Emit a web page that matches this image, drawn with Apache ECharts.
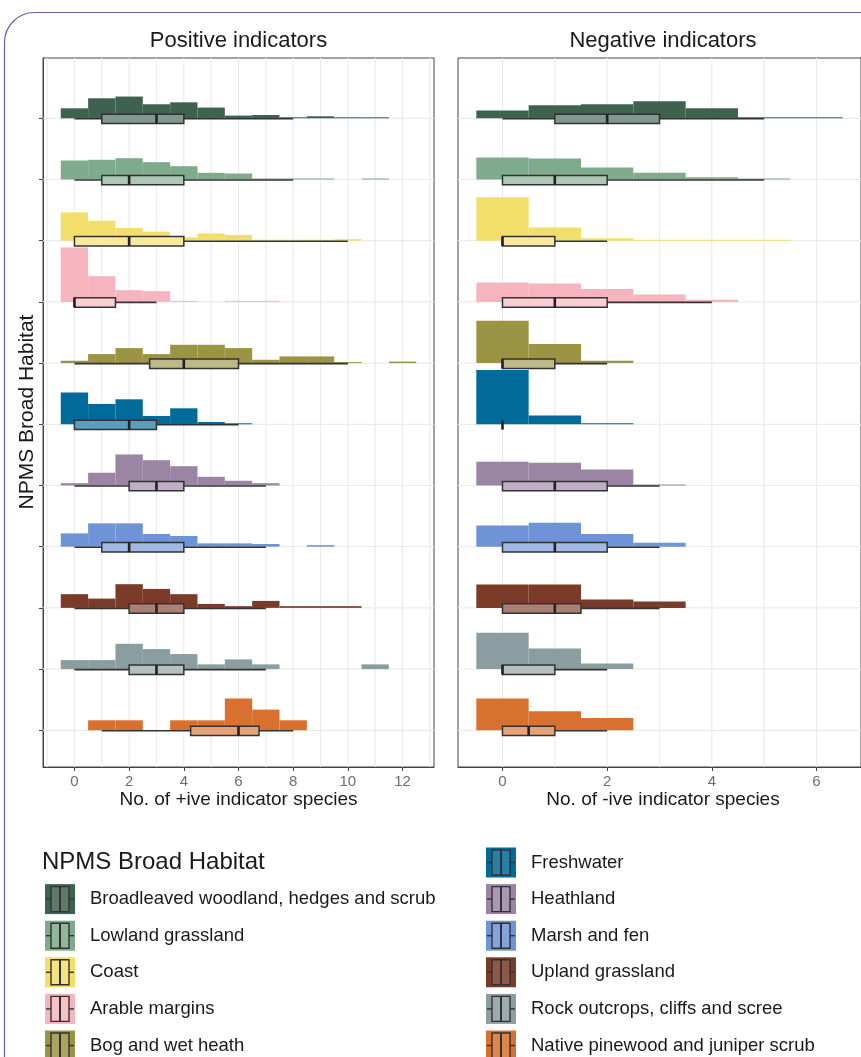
<!DOCTYPE html>
<html><head><meta charset="utf-8">
<script src="https://cdn.jsdelivr.net/npm/echarts@6/dist/echarts.min.js"></script>
<style>html,body{margin:0;padding:0;background:#fff}#c{width:861px;height:1057px}</style>
</head><body><div id="c"></div>
<script>
// ---------- DATA ----------
const habitats = [
  "Broadleaved woodland, hedges and scrub", "Lowland grassland", "Coast", "Arable margins",
  "Bog and wet heath", "Freshwater", "Heathland", "Marsh and fen", "Upland grassland",
  "Rock outcrops, cliffs and scree", "Native pinewood and juniper scrub"
];
const colors = ["#3F6150", "#7FAA8C", "#F2DE6B", "#F5B4BE", "#9A9444", "#006A99",
  "#9A85A5", "#6E93D6", "#7A3C29", "#8A9DA0", "#D8712F"];

// histogram heights (relative density) for integer bins 0,1,2,...
const posHist = [
  [0.163, 0.327, 0.355, 0.229, 0.261, 0.175, 0.044, 0.054, 0.012, 0.033, 0.008, 0.008],
  [0.310, 0.322, 0.348, 0.283, 0.217, 0.109, 0.098, 0.012, 0.008, 0.008, 0, 0.012],
  [0.462, 0.327, 0.208, 0.147, 0.054, 0.119, 0.093, 0.008, 0.008, 0.008, 0.025],
  [0.887, 0.420, 0.191, 0.175, 0.012, 0, 0.012, 0.012],
  [0.038, 0.147, 0.245, 0.147, 0.299, 0.299, 0.245, 0.054, 0.109, 0.109, 0.016, 0, 0.025],
  [0.518, 0.332, 0.408, 0.136, 0.261, 0.038, 0.016],
  [0.038, 0.208, 0.507, 0.413, 0.315, 0.142, 0.077, 0.038],
  [0.217, 0.381, 0.381, 0.208, 0.175, 0.054, 0.054, 0.044, 0, 0.025],
  [0.224, 0.152, 0.387, 0.310, 0.224, 0.065, 0.028, 0.114, 0.028, 0.028, 0.028],
  [0.147, 0.147, 0.413, 0.327, 0.245, 0.077, 0.158, 0.077, 0, 0, 0, 0.077],
  [0, 0.163, 0.163, 0, 0.163, 0.163, 0.518, 0.338, 0.163]
];
const negHist = [
  [0.126, 0.212, 0.229, 0.278, 0.163, 0.012, 0.006],
  [0.359, 0.343, 0.196, 0.109, 0.038, 0.008],
  [0.708, 0.217, 0.038, 0.008, 0.008, 0.008],
  [0.315, 0.299, 0.212, 0.119, 0.033],
  [0.691, 0.310, 0.038],
  [0.887, 0.142, 0.012],
  [0.387, 0.371, 0.261, 0.016],
  [0.348, 0.392, 0.208, 0.065],
  [0.381, 0.381, 0.136, 0.103],
  [0.593, 0.338, 0.093],
  [0.518, 0.310, 0.201]
];
// box stats: [whisker low, Q1, median, Q3, whisker high]
const posBox = [
  [0, 1, 3, 4, 8], [0, 1, 2, 4, 8], [0, 0, 2, 4, 10], [0, 0, 0, 1.5, 3], [0, 2.75, 4, 6, 10],
  [0, 0, 2, 3, 6], [0, 2, 3, 4, 7], [0, 1, 2, 4, 7], [0, 2, 3, 4, 7], [0, 2, 3, 4, 7], [1, 4.25, 6, 6.75, 8]
];
const negBox = [
  [0, 1, 2, 3, 5], [0, 0, 1, 2, 5], [0, 0, 0, 1, 2], [0, 0, 1, 2, 4], [0, 0, 0, 1, 2],
  [0, 0, 0, 0, 0], [0, 0, 1, 2, 3], [0, 0, 1, 2, 3], [0, 0, 1, 1.5, 3], [0, 0, 0, 1, 2], [0, 0, 0.5, 1, 2]
];
const posTicks = [0, 2, 4, 6, 8, 10, 12];
const negTicks = [0, 2, 4, 6];
const posGridX = [-1, 0, 1, 2, 3, 4, 5, 6, 7, 8, 9, 10, 11, 12, 13];
const negGridX = [0, 1, 2, 3, 4, 5, 6];
const panelTitles = ["Positive indicators", "Negative indicators"];
const xTitles = ["No. of +ive indicator species", "No. of -ive indicator species"];
const yTitle = "NPMS Broad Habitat";

// ---------- BUILD ----------
const FONT = "'Liberation Sans', Arial, Helvetica, sans-serif";
const N = habitats.length;
const baseOf = g => N - 1 - g;
const yRange = [-0.6, 10.985];
const xRanges = [[-1.15, 13.15], [-0.85, 6.85]];
const rowsY = habitats.map((_, g) => baseOf(g));

function mix(hex, a) { // blend with white
  const n = parseInt(hex.slice(1), 16);
  const r = (n >> 16) & 255, gg = (n >> 8) & 255, b = n & 255;
  const f = c => Math.round(c + (255 - c) * a);
  return `rgb(${f(r)},${f(gg)},${f(b)})`;
}

function histData(hist) {
  const out = [];
  hist.forEach((bins, g) => bins.forEach((h, i) => { if (h > 0) out.push([i, baseOf(g), h, g]); }));
  return out;
}
function boxData(box) {
  return box.map((s, g) => [s[0], baseOf(g), s[1], s[2], s[3], s[4], g]);
}

function gridLineSeries(p, gx) {
  const xr = xRanges[p];
  return [{
    type: 'custom', xAxisIndex: p, yAxisIndex: p, z: 1, silent: true,
    data: gx.map(v => [v, 0]),
    renderItem: (params, api) => {
      const a = api.coord([api.value(0), yRange[0]]), b = api.coord([api.value(0), yRange[1]]);
      return { type: 'line', shape: { x1: a[0], y1: a[1], x2: b[0], y2: b[1] }, style: { stroke: '#ebebeb', lineWidth: 1.2 } };
    }
  }, {
    type: 'custom', xAxisIndex: p, yAxisIndex: p, z: 1, silent: true,
    data: rowsY.map(v => [0, v]),
    renderItem: (params, api) => {
      const a = api.coord([xr[0], api.value(1)]), b = api.coord([xr[1], api.value(1)]);
      return { type: 'line', shape: { x1: a[0], y1: a[1], x2: b[0], y2: b[1] }, style: { stroke: '#ebebeb', lineWidth: 1.2 } };
    }
  }];
}

function histSeries(p, hist) {
  return {
    type: 'custom', xAxisIndex: p, yAxisIndex: p, z: 2, silent: true, clip: true,
    data: histData(hist),
    renderItem: (params, api) => {
      const x = api.value(0), b = api.value(1), h = api.value(2), g = api.value(3);
      const p0 = api.coord([x - 0.5, b]), p1 = api.coord([x + 0.5, b + h]);
      const hh = Math.max(p0[1] - p1[1], 1);
      return { type: 'rect', shape: { x: p0[0], y: p0[1] - hh, width: p1[0] - p0[0], height: hh },
        style: { fill: colors[g] } };
    }
  };
}

function boxSeries(p, box) {
  return {
    type: 'custom', xAxisIndex: p, yAxisIndex: p, z: 3, silent: true,
    data: boxData(box),
    renderItem: (params, api) => {
      const wl = api.value(0), b = api.value(1), q1 = api.value(2), md = api.value(3), q3 = api.value(4), wh = api.value(5), g = api.value(6);
      const pl = api.coord([wl, b]), ph = api.coord([wh, b]), p1 = api.coord([q1, b]), pm = api.coord([md, b]), p3 = api.coord([q3, b]);
      const y = pl[1] + 0.5;
      const top = y - 4.6, bot = y + 4.8;
      const children = [];
      if (ph[0] > pl[0]) children.push({ type: 'line', shape: { x1: pl[0], y1: y, x2: ph[0], y2: y }, style: { stroke: '#333', lineWidth: 1.6 } });
      if (p3[0] > p1[0]) children.push({ type: 'rect', shape: { x: p1[0], y: top, width: p3[0] - p1[0], height: bot - top },
        style: { fill: mix(colors[g], 0.35), stroke: '#333', lineWidth: 1.5 } });
      children.push({ type: 'line', shape: { x1: pm[0], y1: top, x2: pm[0], y2: bot }, style: { stroke: '#222', lineWidth: 2.6 } });
      return { type: 'group', children };
    }
  };
}

const grids = [
  { left: 43, top: 58, width: 391, height: 709, show: true, borderColor: '#444', borderWidth: 1, backgroundColor: 'transparent', containLabel: false },
  { left: 458, top: 58, width: 410, height: 709, show: true, borderColor: '#444', borderWidth: 1, backgroundColor: 'transparent', containLabel: false }
];
const ticksList = [posTicks, negTicks];
const xAxes = [0, 1].map(p => ({
  type: 'value', gridIndex: p, min: xRanges[p][0], max: xRanges[p][1],
  axisLine: { show: true, onZero: false, lineStyle: { color: '#444', width: 1 } },
  axisTick: { show: true, length: 4, customValues: ticksList[p], lineStyle: { color: '#444', width: 1 } },
  axisLabel: { show: true, customValues: ticksList[p], color: '#6e6e6e', fontSize: 15, fontFamily: FONT, margin: 7 },
  splitLine: { show: false }
}));
const yAxes = [0, 1].map(p => ({
  type: 'value', gridIndex: p, min: yRange[0], max: yRange[1],
  axisLine: { show: p === 0, onZero: false, lineStyle: { color: '#444' } },
  axisTick: { show: p === 0, length: 4, customValues: rowsY, lineStyle: { color: '#444' } },
  axisLabel: { show: false },
  splitLine: { show: false }
}));

const series = [
  ...gridLineSeries(0, posGridX), ...gridLineSeries(1, negGridX),
  histSeries(0, posHist), histSeries(1, negHist),
  boxSeries(0, posBox), boxSeries(1, negBox)
];

// ---------- TEXT & LEGEND (graphic) ----------
const graphic = [];
graphic.push({ type: 'rect', left: 2, top: 10, shape: { width: 920, height: 1100, r: 30 }, style: { fill: 'none', stroke: '#7358A8', lineWidth: 1.2 }, silent: true, z: 0 });
const panelCenters = [238.5, 663];
panelTitles.forEach((t, p) => graphic.push({ type: 'text', x: panelCenters[p], y: 41, style: { text: t, fontSize: 22, fontFamily: FONT, fill: '#1a1a1a', align: 'center', verticalAlign: 'middle' } }));
xTitles.forEach((t, p) => graphic.push({ type: 'text', x: panelCenters[p], y: 800, style: { text: t, fontSize: 19, fontFamily: FONT, fill: '#1a1a1a', align: 'center', verticalAlign: 'middle' } }));
graphic.push({ type: 'text', x: 27, y: 412, rotation: Math.PI / 2, style: { text: yTitle, fontSize: 21, fontFamily: FONT, fill: '#1a1a1a', align: 'center', verticalAlign: 'middle' } });

// legend
graphic.push({ type: 'text', x: 42, y: 862, style: { text: yTitle, fontSize: 24, fontFamily: FONT, fill: '#1a1a1a', align: 'left', verticalAlign: 'middle' } });
const legendSlots = habitats.map((h, g) => g < 5 ? { col: 0, row: g + 1 } : { col: 1, row: g - 5 });
const colX = [45, 486], rowY0 = 862.5, rowStep = 36.6;
legendSlots.forEach((s, g) => {
  const x = colX[s.col], cy = rowY0 + s.row * rowStep;
  const w = 30, h = 30, t = cy - h / 2;
  graphic.push({ type: 'group', children: [
    { type: 'rect', shape: { x: x, y: t, width: w, height: h }, style: { fill: colors[g] } },
    { type: 'line', shape: { x1: x + 1, y1: cy, x2: x + 6, y2: cy }, style: { stroke: '#333', lineWidth: 1.4 } },
    { type: 'line', shape: { x1: x + 24, y1: cy, x2: x + 29, y2: cy }, style: { stroke: '#333', lineWidth: 1.4 } },
    { type: 'rect', shape: { x: x + 6, y: t + 2.5, width: 18, height: h - 5 }, style: { fill: mix(colors[g], 0.15), stroke: '#333', lineWidth: 1.4 } },
    { type: 'line', shape: { x1: x + 15, y1: t + 2.5, x2: x + 15, y2: t + h - 2.5 }, style: { stroke: '#333', lineWidth: 2 } }
  ] });
  graphic.push({ type: 'text', x: x + 45, y: cy, style: { text: habitats[g], fontSize: 18.5, fontFamily: FONT, fill: '#1a1a1a', align: 'left', verticalAlign: 'middle' } });
});

const chart = echarts.init(document.getElementById('c'), null, { renderer: 'canvas' });
chart.setOption({
  animation: false,
  backgroundColor: '#fff',
  grid: grids, xAxis: xAxes, yAxis: yAxes, series, graphic
});
</script></body></html>
